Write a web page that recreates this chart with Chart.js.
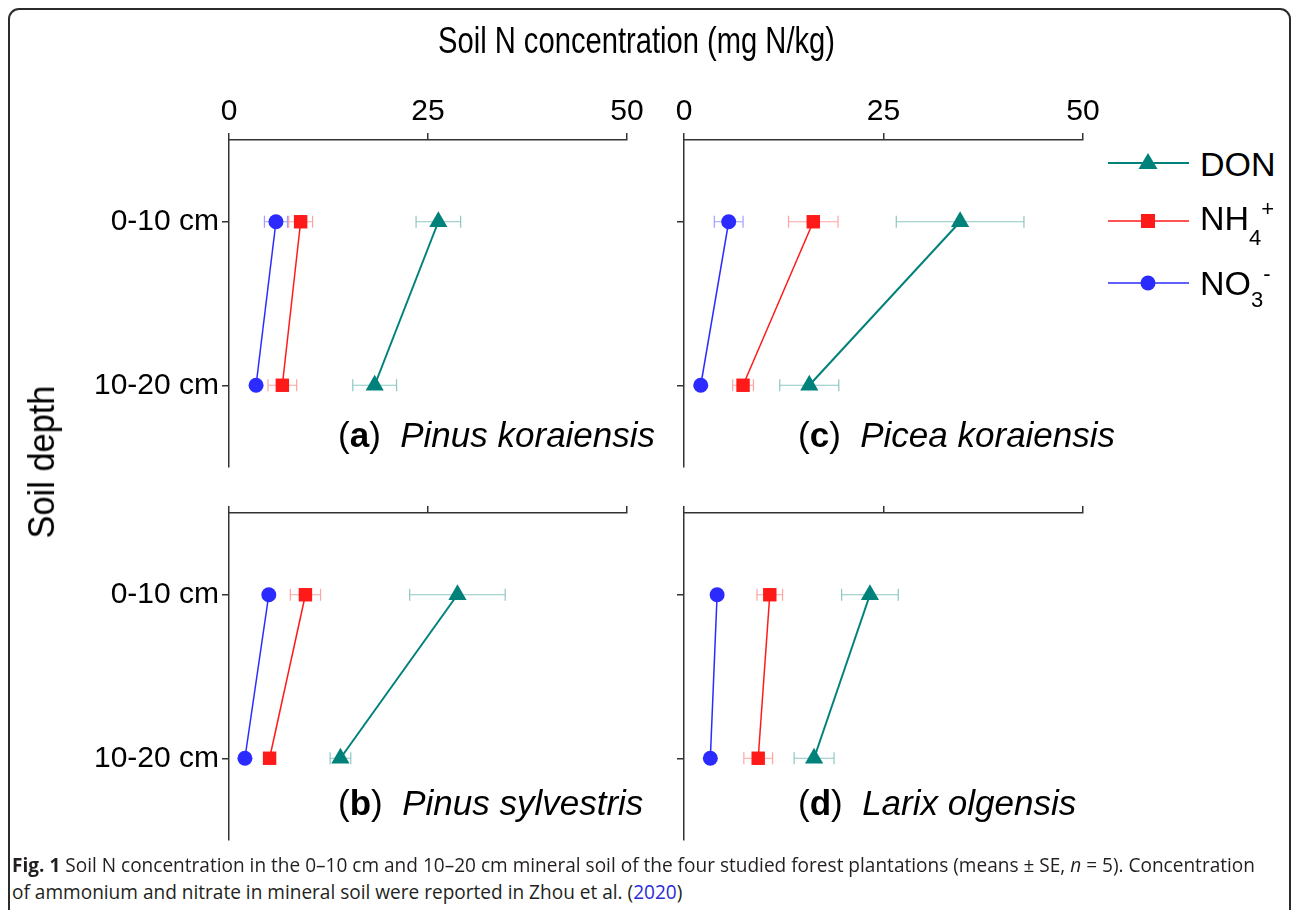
<!DOCTYPE html>
<html>
<head>
<meta charset="utf-8">
<script src="https://cdn.jsdelivr.net/npm/chart.js@4.4.0/dist/chart.umd.min.js"></script>
<style>
  body { margin: 0; width: 1292px; height: 910px; overflow: hidden; background: #fff; position: relative; }
  #frame { position: absolute; left: 8px; top: 8px; width: 1283px; height: 1000px; box-sizing: border-box;
           border: 2px solid #2b2b2b; border-radius: 11px; }
  canvas { position: absolute; }
  .txt { position: absolute; font-family: 'Liberation Sans', Arial, sans-serif; color: #000; line-height: 1; white-space: nowrap; z-index: 2; }
  .cap { position: absolute; font-family: 'Open Sans', sans-serif; font-size: 20px; line-height: 1; color: #231f20;
         white-space: nowrap; transform-origin: left center; z-index: 2; }
  .sub, .sup { font-size: 22px; position: relative; }
</style>
</head>
<body>
<div id="frame"></div>
<div id="title" class="txt" style="font-size:37px; top:22px; transform-origin:left center;">Soil N concentration (mg N/kg)</div>
<div id="ylab" class="txt" style="font-size:36px;">Soil depth</div>

<canvas id="pa" width="660" height="440" style="left:0px; top:60px;"></canvas>
<canvas id="pc" width="460" height="440" style="left:660px; top:60px;"></canvas>
<canvas id="pb" width="660" height="380" style="left:0px; top:490px;"></canvas>
<canvas id="pd" width="460" height="380" style="left:660px; top:490px;"></canvas>

<div id="lab0" class="txt" style="font-size:35px; left:338px; top:417px;"></div>
<div id="lab2" class="txt" style="font-size:35px; left:798px; top:417px;"></div>
<div id="lab1" class="txt" style="font-size:35px; left:338px; top:785px;"></div>
<div id="lab3" class="txt" style="font-size:35px; left:798px; top:785px;"></div>

<svg style="position:absolute; left:1100px; top:140px; z-index:2;" width="100" height="170">
  <line x1="8" y1="23" x2="89" y2="23" stroke="#00827a" stroke-width="2"/>
  <polygon points="48,13 38.5,29 57.5,29" fill="#00827a"/>
  <line x1="8" y1="81" x2="89" y2="81" stroke="#ff1a1a" stroke-width="1.5"/>
  <rect x="41" y="74" width="14" height="14" fill="#ff1a1a"/>
  <line x1="8" y1="143" x2="89" y2="143" stroke="#2b2bff" stroke-width="1.5"/>
  <circle cx="48" cy="143" r="7.5" fill="#2b2bff"/>
</svg>
<div class="txt" style="font-size:34px; left:1200px; top:147px;">DON</div>
<div class="txt" style="font-size:34px; left:1200px; top:201px;">NH<span class="sub" style="top:15px;">4</span><span class="sup" style="top:-14px;">+</span></div>
<div class="txt" style="font-size:34px; left:1200px; top:266px;">NO<span class="sub" style="top:12px;">3</span><span class="sup" style="top:-14px;">-</span></div>

<div id="cap1" class="cap" style="left:12px; top:855px;"><b>Fig. 1</b> Soil N concentration in the 0–10 cm and 10–20 cm mineral soil of the four studied forest plantations (means ± SE, <i>n</i> = 5). Concentration</div>
<div id="cap2" class="cap" style="left:12px; top:882px;">of ammonium and nitrate in mineral soil were reported in Zhou et al. (<span style="color:#2b2bd9">2020</span>)</div>

<script>
// panels in order a, b, c, d
const depths = ['0-10 cm', '10-20 cm'];
const xTicks = [0, 25, 50];
const panelLetters = ['a', 'b', 'c', 'd'];
const panelNames = ['Pinus koraiensis', 'Pinus sylvestris', 'Picea koraiensis', 'Larix olgensis'];

const donMean = [[26.3, 18.3], [28.7, 14.0], [34.6, 15.7], [23.3, 16.3]];
const donSE   = [[2.8, 2.75], [6.0, 1.3], [8.0, 3.7], [3.55, 2.5]];
const nh4Mean = [[9.0, 6.7], [9.6, 5.1], [16.2, 7.4], [10.75, 9.3]];
const nh4SE   = [[1.5, 1.8], [1.9, 0.4], [3.1, 1.3], [1.6, 1.8]];
const no3Mean = [[5.9, 3.4], [5.0, 2.0], [5.6, 2.1], [4.15, 3.3]];
const no3SE   = [[1.45, 0.4], [0.4, 0.3], [1.8, 0.3], [0.5, 0.4]];

const FONT = "'Liberation Sans', Arial, sans-serif";
const AXIS = '#333';

// horizontal error bars, drawn under the markers
const errorBars = {
  id: 'errorBars',
  beforeDatasetsDraw(chart) {
    const ctx = chart.ctx;
    const xs = chart.scales.x;
    chart.data.datasets.forEach((ds, i) => {
      const meta = chart.getDatasetMeta(i);
      meta.data.forEach((pt, j) => {
        const m = ds.data[j], e = ds.errors[j];
        const x0 = xs.getPixelForValue(m - e);
        const x1 = xs.getPixelForValue(m + e);
        const y = pt.y;
        ctx.save();
        ctx.strokeStyle = ds.errorColor;
        ctx.lineWidth = 1.2;
        ctx.beginPath();
        ctx.moveTo(x0, y); ctx.lineTo(x1, y);
        ctx.moveTo(x0, y - 6); ctx.lineTo(x0, y + 6);
        ctx.moveTo(x1, y - 6); ctx.lineTo(x1, y + 6);
        ctx.stroke();
        ctx.restore();
      });
    });
  }
};

function series(label, data, errors, color, errColor, style, radius, width) {
  return {
    label, data, errors, errorColor: errColor,
    borderColor: color, backgroundColor: color, borderWidth: width,
    pointStyle: style, pointRadius: radius, pointBackgroundColor: color,
    pointBorderColor: color, pointBorderWidth: 0, tension: 0, clip: false
  };
}

function panel(id, k, showX, showY, yW, xH, padR, padB) {
  new Chart(document.getElementById(id), {
    type: 'line',
    data: {
      labels: depths,
      datasets: [
        series('NO3-', no3Mean[k], no3SE[k], '#2b2bff', 'rgba(43,43,255,0.45)', 'circle', 7.5, 1.5),
        series('NH4+', nh4Mean[k], nh4SE[k], '#ff1a1a', 'rgba(255,26,26,0.4)', 'rect', 9.5, 1.5),
        series('DON', donMean[k], donSE[k], '#00827a', 'rgba(0,130,122,0.45)', 'triangle', 10.5, 2)
      ]
    },
    options: {
      indexAxis: 'y',
      responsive: false,
      animation: false,
      layout: { padding: { left: 0, top: 0, right: padR, bottom: padB } },
      plugins: { legend: { display: false }, tooltip: { enabled: false } },
      scales: {
        x: {
          type: 'linear', position: 'top', min: 0, max: 50,
          afterBuildTicks: s => { s.ticks = xTicks.map(v => ({ value: v })); },
          afterFit: s => { s.height = xH; },
          ticks: { display: showX, color: '#000', padding: 3, font: { family: FONT, size: 30 } },
          grid: { drawOnChartArea: false, drawTicks: true, tickLength: 7, color: AXIS, lineWidth: 1.5 },
          border: { display: true, color: AXIS, width: 1.5 }
        },
        y: {
          type: 'category', offset: true,
          afterFit: s => { s.width = yW; },
          ticks: { display: showY, color: '#000', padding: 3, font: { family: FONT, size: 30 } },
          grid: { offset: false, drawOnChartArea: false, drawTicks: true, tickLength: 7, color: AXIS, lineWidth: 1.5 },
          border: { display: true, color: AXIS, width: 1.5 }
        }
      }
    },
    plugins: [errorBars]
  });
}

panel('pa', 0, true, true, 229, 80, 33, 33);
panel('pb', 1, false, true, 229, 23, 33, 30);
panel('pc', 2, true, false, 24, 80, 37, 33);
panel('pd', 3, false, false, 24, 23, 37, 30);

// panel labels
panelLetters.forEach((l, i) => {
  document.getElementById('lab' + i).innerHTML =
    '(<b>' + l + '</b>)&nbsp;&nbsp;<i>' + panelNames[i] + '</i>';
});

// title squeezed to the reference width
const title = document.getElementById('title');
const tw = title.getBoundingClientRect().width;
title.style.left = (636.5 - 397 / 2) + 'px';
title.style.transform = 'scaleX(' + (397 / tw) + ')';

// rotated y label
const ylab = document.getElementById('ylab');
const yw = ylab.getBoundingClientRect().width;
ylab.style.left = (42.5 - yw / 2) + 'px';
ylab.style.top = (462 - 18) + 'px';
ylab.style.transform = 'rotate(-90deg) scaleX(' + (153 / yw) + ')';

// caption squeezed to the reference width
const c1 = document.getElementById('cap1');
const cs = 1243 / c1.getBoundingClientRect().width;
c1.style.transform = 'scaleX(' + cs + ')';
document.getElementById('cap2').style.transform = 'scaleX(' + cs + ')';
</script>
</body>
</html>
